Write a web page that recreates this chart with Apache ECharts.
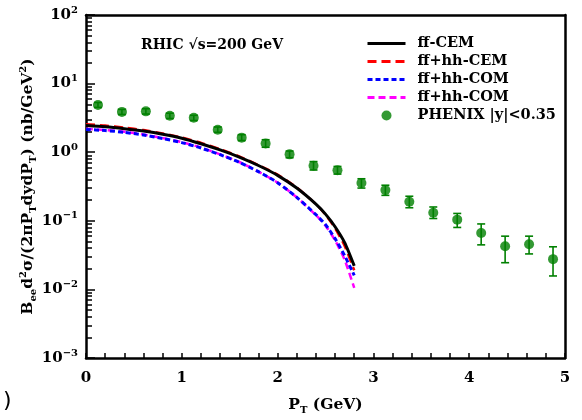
<!DOCTYPE html>
<html><head><meta charset="utf-8">
<script src="https://cdn.jsdelivr.net/npm/echarts@6/dist/echarts.min.js"></script>
<style>html,body{margin:0;padding:0;background:#fff}#c{width:582px;height:420px}</style>
</head><body><div id="c"></div>
<script>
// ---- data ----
const curvePT   = [0, 0.2, 0.4, 0.6, 0.8, 1.0, 1.2, 1.4, 1.6, 1.8, 2.0, 2.2, 2.4, 2.5, 2.6, 2.7, 2.8];
const ffCEM     = [2.45, 2.35, 2.2, 2.03, 1.83, 1.6, 1.33, 1.08, 0.85, 0.64, 0.46, 0.30, 0.175, 0.125, 0.082, 0.048, 0.022];
const ffhhCEM   = [2.55, 2.45, 2.28, 2.1, 1.88, 1.64, 1.37, 1.11, 0.87, 0.65, 0.47, 0.305, 0.175, 0.123, 0.078, 0.043, 0.019];
const ffhhCOM1  = [2.15, 2.07, 1.95, 1.78, 1.58, 1.38, 1.15, 0.92, 0.71, 0.52, 0.36, 0.22, 0.123, 0.088, 0.055, 0.031, 0.016];
const ffhhCOM2  = [2.19, 2.11, 1.99, 1.81, 1.61, 1.40, 1.17, 0.93, 0.72, 0.52, 0.36, 0.22, 0.121, 0.085, 0.052, 0.027, 0.0105];
const phenixPT  = [0.125,0.375,0.625,0.875,1.125,1.375,1.625,1.875,2.125,2.375,2.625,2.875,3.125,3.375,3.625,3.875,4.125,4.375,4.625,4.875];
const phenixY   = [4.89,3.87,3.94,3.39,3.17,2.13,1.63,1.34,0.93,0.635,0.547,0.355,0.28,0.189,0.131,0.104,0.0665,0.0425,0.0454,0.0276];
const phenixLo  = [4.5,3.55,3.6,3.1,2.9,1.95,1.48,1.18,0.83,0.55,0.48,0.30,0.235,0.155,0.108,0.080,0.0446,0.0245,0.0329,0.0157];
const phenixHi  = [5.3,4.2,4.3,3.7,3.45,2.33,1.8,1.52,1.04,0.73,0.62,0.41,0.33,0.228,0.159,0.128,0.090,0.0597,0.0597,0.0418];
const xTickLabels = ['0','1','2','3','4','5'];
const yDecades = [-3,-2,-1,0,1,2];

// ---- build ----
const FONT = 'DejaVu Serif';
const zip = (xs, ys) => xs.map((x, i) => [x, ys[i]]);
const minorVals = [];
for (let d = yDecades[0]; d < yDecades[yDecades.length-1]; d++) for (let k = 2; k <= 9; k++) minorVals.push(k*Math.pow(10,d));

const chart = echarts.init(document.getElementById('c'), null, {renderer:'canvas'});
const green = '#008000';
const legText = {fontFamily:FONT,fontWeight:'bold',fontSize:14.5,color:'#000',padding:[0,0,0,7]};
const noSym = {opacity:0};
const frameLine = {show:true,lineStyle:{color:'#000',width:2.5}};
chart.setOption({
  animation:false,
  grid:{left:86,right:17,top:15,bottom:58},
  title:{text:'RHIC √s=200 GeV',left:136,top:33,textStyle:{fontFamily:FONT,fontWeight:'bold',fontSize:14,color:'#000'}},
  legend:{
    orient:'vertical',left:361,top:31,itemWidth:38,itemHeight:10,itemGap:3,
    textStyle:legText,
    data:[
      {name:'ff-CEM',itemStyle:noSym,lineStyle:{width:3}},{name:'ff+hh-CEM',itemStyle:noSym,lineStyle:{width:3}},
      {name:'ff+hh-COM',itemStyle:noSym,lineStyle:{width:3}},{name:'ff+hh-COM ',itemStyle:noSym,lineStyle:{width:3}},
      {name:'PHENIX |y|<0.35',icon:'circle'}
    ]
  },
  xAxis:[{
    type:'value',min:0,max:5,interval:1,
    axisLine:frameLine,
    axisTick:{inside:true,length:5,lineStyle:{color:'#000',width:1.5}},
    minorTick:{show:true,splitNumber:5,length:5,lineStyle:{color:'#000',width:1.5}},
    splitLine:{show:false},minorSplitLine:{show:false},
    axisLabel:{margin:13,fontFamily:FONT,fontWeight:'bold',fontSize:15,color:'#000',formatter:(v)=>xTickLabels[Math.round(v)]},
    name:'{n|P}{sub|T}{n| (GeV)}',nameLocation:'middle',nameGap:37,
    nameTextStyle:{rich:{
      n:{fontFamily:FONT,fontWeight:'bold',fontSize:15.5,color:'#000',lineHeight:20},
      sub:{fontFamily:FONT,fontWeight:'bold',fontSize:10,color:'#000',verticalAlign:'bottom'}
    }}
  },{
    type:'value',min:0,max:5,position:'top',axisLine:frameLine,axisTick:{show:false},axisLabel:{show:false},splitLine:{show:false}
  }],
  yAxis:[{
    type:'log',logBase:10,min:1e-3,max:1e2,
    axisLine:frameLine,
    axisTick:{show:true,inside:true,length:9,lineStyle:{color:'#000',width:1.5}},
    splitLine:{show:false},
    axisLabel:{margin:8,formatter:(v)=>{const e=Math.round(Math.log10(v));return '{b|10}{s|'+(e<0?'−'+(-e):e)+'}';},
      rich:{
        b:{fontFamily:FONT,fontWeight:'bold',fontSize:15,color:'#000',lineHeight:20},
        s:{fontFamily:FONT,fontWeight:'bold',fontSize:10,color:'#000',verticalAlign:'top'}
      }},
    name:'{n|B}{sub|ee}{n|d}{sup|2}{n|σ/(2πP}{sub|T}{n|dydP}{sub|T}{n|) (nb/GeV}{sup|2}{n|)}',
    nameLocation:'middle',nameGap:48,nameRotate:90,nameMoveOverlap:false,
    nameTextStyle:{rich:{
      n:{fontFamily:FONT,fontWeight:'bold',fontSize:15.5,color:'#000',lineHeight:20},
      sub:{fontFamily:FONT,fontWeight:'bold',fontSize:10,color:'#000',verticalAlign:'bottom'},
      sup:{fontFamily:FONT,fontWeight:'bold',fontSize:10,color:'#000',verticalAlign:'top'}
    }}
  },{
    type:'log',logBase:10,min:1e-3,max:1e2,position:'left',offset:0,
    axisLine:{show:false},
    axisTick:{show:true,inside:true,length:6,customValues:minorVals,lineStyle:{color:'#000',width:1.5}},
    axisLabel:{show:false},splitLine:{show:false}
  },{
    type:'log',logBase:10,min:1e-3,max:1e2,position:'right',
    axisLine:frameLine,axisTick:{show:false},axisLabel:{show:false},splitLine:{show:false}
  }],
  graphic:[{type:'text',left:3,top:390,style:{text:')',font:'22px "DejaVu Sans"',fill:'#000'}}],
  series:[
    {type:'line',name:'ff+hh-CEM',data:zip(curvePT,ffhhCEM),symbol:'none',smooth:0.2,z:3,
      lineStyle:{color:'#ff0000',width:2.5,type:[9,5]},itemStyle:{color:'#ff0000'}},
    {type:'line',name:'ff-CEM',data:zip(curvePT,ffCEM),symbol:'none',smooth:0.2,z:4,
      lineStyle:{color:'#000',width:3},itemStyle:{color:'#000'}},
    {type:'line',name:'ff+hh-COM ',data:zip(curvePT,ffhhCOM2),symbol:'none',smooth:0.2,z:5,
      lineStyle:{color:'#ff00ff',width:2.5,type:[7,4]},itemStyle:{color:'#ff00ff'}},
    {type:'line',name:'ff+hh-COM',data:zip(curvePT,ffhhCOM1),symbol:'none',smooth:0.2,z:6,
      lineStyle:{color:'#0000ff',width:3,type:[5,3]},itemStyle:{color:'#0000ff'}},
    {type:'custom',name:'_err',silent:true,z:7,data:phenixPT.map((x,i)=>[x,phenixLo[i],phenixHi[i]]),
      renderItem:(params,api)=>{
        const x=api.value(0); const lo=api.coord([x,api.value(1)]); const hi=api.coord([x,api.value(2)]);
        const st={stroke:green,lineWidth:1.6};
        return {type:'group',children:[
          {type:'line',shape:{x1:lo[0],y1:lo[1],x2:hi[0],y2:hi[1]},style:st},
          {type:'line',shape:{x1:lo[0]-4,y1:lo[1],x2:lo[0]+4,y2:lo[1]},style:st},
          {type:'line',shape:{x1:hi[0]-4,y1:hi[1],x2:hi[0]+4,y2:hi[1]},style:st}
        ]};
      }},
    {type:'scatter',name:'PHENIX |y|<0.35',data:zip(phenixPT,phenixY),symbol:'circle',symbolSize:10,z:8,
      itemStyle:{color:green}}
  ]
});
</script></body></html>
